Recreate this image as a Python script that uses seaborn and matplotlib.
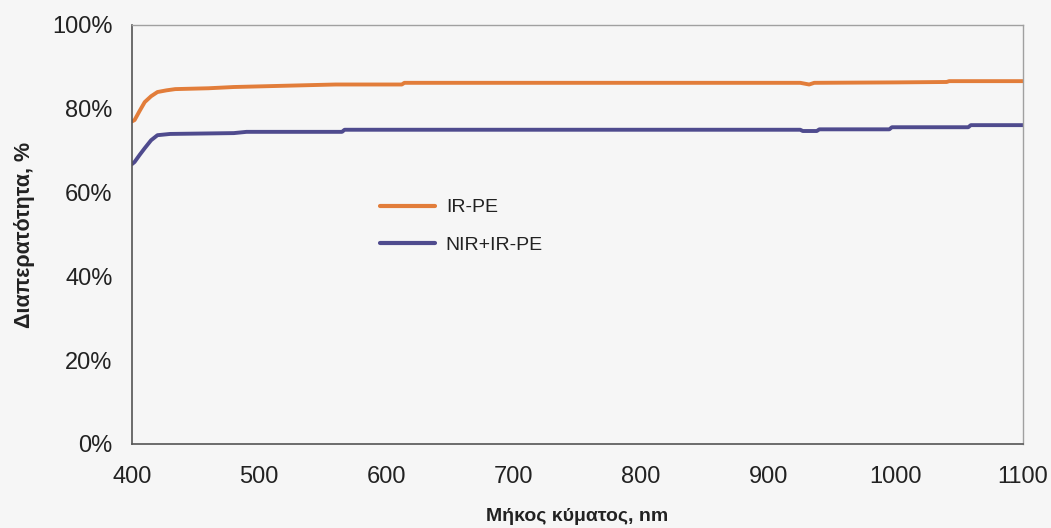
import matplotlib
matplotlib.use("Agg")
import matplotlib.pyplot as plt
import seaborn as sns
import pandas as pd
from matplotlib.ticker import FuncFormatter

# ---- data ----
wl_ir = [400, 402, 406, 410, 415, 420, 427, 434, 460, 480, 520, 560, 612, 614,
         700, 800, 925, 932, 936, 1000, 1040, 1042, 1100]
ir_pe = [77.0, 77.3, 79.5, 81.6, 83.0, 84.0, 84.4, 84.7, 84.9, 85.2, 85.5, 85.8, 85.8, 86.2,
         86.2, 86.2, 86.2, 85.8, 86.2, 86.3, 86.4, 86.6, 86.6]

wl_nir = [400, 402, 406, 410, 415, 420, 430, 480, 490, 565, 567, 700, 880, 925,
          927, 938, 940, 995, 997, 1057, 1059, 1100]
nir_ir_pe = [66.8, 67.3, 69.0, 70.6, 72.5, 73.7, 74.0, 74.2, 74.5, 74.5, 75.0, 75.0, 75.0, 75.0,
             74.7, 74.7, 75.1, 75.1, 75.6, 75.6, 76.1, 76.1]

series_names = ["IR-PE", "NIR+IR-PE"]
colors = ["#e27d3a", "#4f4b8e"]
x_ticks = [400, 500, 600, 700, 800, 900, 1000, 1100]
y_ticks = [0, 20, 40, 60, 80, 100]

df = pd.concat([
    pd.DataFrame({"wl": wl_ir, "T": ir_pe, "s": series_names[0]}),
    pd.DataFrame({"wl": wl_nir, "T": nir_ir_pe, "s": series_names[1]}),
])

sns.set_theme(style="white")
plt.rcParams['font.family'] = ['Liberation Sans', 'DejaVu Sans']

bg = "#f6f6f6"
fig = plt.figure(figsize=(10.51, 5.28), dpi=100, facecolor=bg)
ax = fig.add_axes([132/1051, 1 - 444/528, (1023-132)/1051, (444-25)/528])
ax.set_facecolor(bg)

sns.lineplot(data=df, x="wl", y="T", hue="s", palette=colors, linewidth=2.8,
             ax=ax, sort=False, estimator=None)

ax.set_xlim(400, 1100)
ax.set_ylim(0, 100)
ax.set_xticks(x_ticks)
ax.set_yticks(y_ticks)
ax.yaxis.set_major_formatter(FuncFormatter(lambda v, p: f"{v:.0f}%"))
ax.tick_params(axis="both", labelsize=17, colors="#555555", length=4, width=0.8,
               direction="out")
ax.tick_params(axis="x", pad=12)
ax.tick_params(axis="y", pad=10)
for lab in ax.get_xticklabels() + ax.get_yticklabels():
    lab.set_color("#222222")

for side in ["left", "bottom"]:
    ax.spines[side].set_color("#555555")
    ax.spines[side].set_linewidth(1.2)
for side in ["top", "right"]:
    ax.spines[side].set_color("#a0a0a0")
    ax.spines[side].set_linewidth(1.0)

ax.set_xlabel("Μήκος κύματος, nm", fontsize=14, fontweight="bold", color="#222222",
              labelpad=14)
ax.set_ylabel("Διαπερατότητα, %", fontsize=15.5, fontweight="bold", color="#222222",
              labelpad=12)

leg = ax.legend(loc="upper left", bbox_to_anchor=(0.278, 0.585), frameon=False,
                fontsize=14, handlelength=2.85, handletextpad=0.55, labelspacing=1.0,
                borderpad=0, borderaxespad=0)
for t in leg.get_texts():
    t.set_color("#222222")
for h in leg.get_lines():
    h.set_linewidth(3.0)

fig.savefig("out.png", dpi=100, facecolor=bg)
